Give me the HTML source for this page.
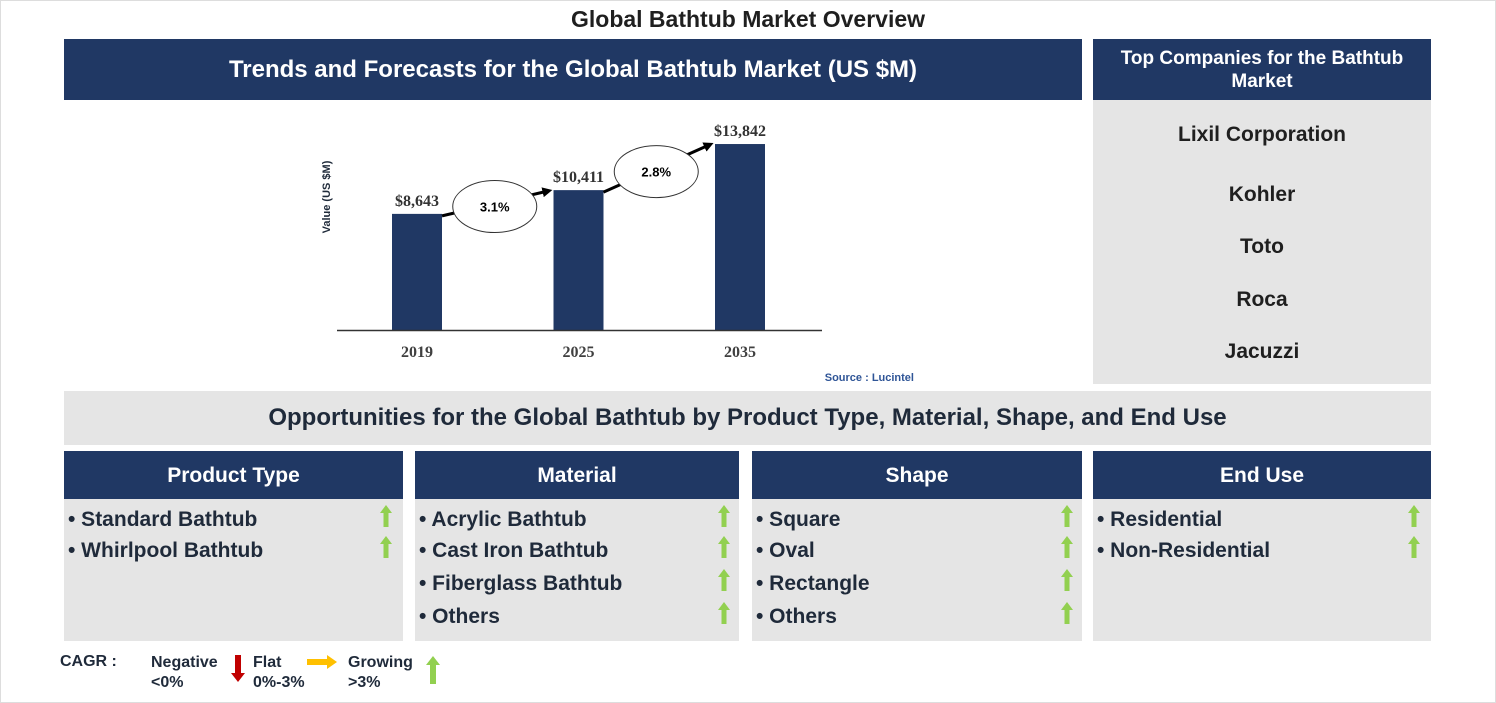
<!DOCTYPE html>
<html><head><meta charset="utf-8"><style>
body{margin:0;width:1496px;height:703px;background:#fff;position:relative;font-family:"Liberation Sans",Arial,sans-serif;overflow:hidden}
.a{position:absolute}
.hdr{background:#203864;color:#fff;font-weight:bold;text-align:center}
.gray{background:#e5e5e5}
.item{position:absolute;font-size:21px;font-weight:bold;color:#1f2a3a;white-space:nowrap}
.serif{font-family:"Liberation Serif",serif;font-weight:bold}
</style></head><body>
<div class="a" style="left:0;top:0;width:1494px;height:701px;border:1px solid #ddd"></div>
<div class="a" style="left:0;top:6px;width:1496px;text-align:center;font-size:23px;font-weight:bold;color:#1f1f1f">Global Bathtub Market Overview</div>
<div class="a hdr" style="left:64px;top:39px;width:1018px;height:61px;line-height:61px;font-size:24px">Trends and Forecasts for the Global Bathtub Market (US $M)</div>
<div class="a hdr" style="left:1093px;top:39px;width:338px;height:61px;font-size:19px;display:flex;align-items:center;justify-content:center;line-height:23px">Top Companies for the Bathtub<br>Market</div>
<div class="a gray" style="left:1093px;top:100px;width:338px;height:284px"></div>
<div class="a" style="left:1093px;top:123px;width:338px;text-align:center;font-size:21px;font-weight:bold;color:#1f1f1f">Lixil Corporation</div>
<div class="a" style="left:1093px;top:183px;width:338px;text-align:center;font-size:21px;font-weight:bold;color:#1f1f1f">Kohler</div>
<div class="a" style="left:1093px;top:235px;width:338px;text-align:center;font-size:21px;font-weight:bold;color:#1f1f1f">Toto</div>
<div class="a" style="left:1093px;top:288px;width:338px;text-align:center;font-size:21px;font-weight:bold;color:#1f1f1f">Roca</div>
<div class="a" style="left:1093px;top:340px;width:338px;text-align:center;font-size:21px;font-weight:bold;color:#1f1f1f">Jacuzzi</div>

<svg class="a" id="chart" style="left:0;top:0" width="1090" height="390"></svg>

<div class="a gray" style="left:64px;top:391px;width:1367px;height:54px;line-height:54px;text-align:center;font-size:24px;font-weight:bold;color:#1f2a3a">Opportunities for the Global Bathtub by Product Type, Material, Shape, and End Use</div>

<div id="panels"></div>

<div class="a" style="left:0;top:0">
<div class="a" style="left:60px;top:653px;font-size:16px;font-weight:bold;color:#1f2a3a;white-space:nowrap">CAGR :</div>
<div class="a" style="left:151px;top:653px;font-size:16px;font-weight:bold;color:#1f2a3a;line-height:20px">Negative<br>&lt;0%</div>
<svg class="a" style="left:231px;top:655px" width="14" height="28"><path d="M4 0h6v18h4l-7 9-7-9h4z" fill="#c00000"/></svg>
<div class="a" style="left:253px;top:653px;font-size:16px;font-weight:bold;color:#1f2a3a;line-height:20px">Flat<br>0%-3%</div>
<svg class="a" style="left:307px;top:655px" width="30" height="14"><path d="M0 4h20V0l10 7-10 7v-4H0z" fill="#ffc000"/></svg>
<div class="a" style="left:348px;top:653px;font-size:16px;font-weight:bold;color:#1f2a3a;line-height:20px">Growing<br>&gt;3%</div>
<svg class="a" style="left:426px;top:656px" width="14" height="28"><path d="M7 0l7 9h-4v19H4V9H0z" fill="#92d050"/></svg>
</div>

<script>
const years=["2019","2025","2035"];
const values=[8643,10411,13842];
const labels=["$8,643","$10,411","$13,842"];
const cagrs=["3.1%","2.8%"];
const NS="http://www.w3.org/2000/svg";
const svg=document.getElementById('chart');
const base=330, k=0.013435, x0=392, step=161.5, bw=50;
const xOf=i=>x0+i*step, yOf=v=>base-v*k;
function mk(t,a){const e=document.createElementNS(NS,t);for(const n in a)e.setAttribute(n,a[n]);svg.appendChild(e);return e;}
const defs=mk('defs',{});
const m=document.createElementNS(NS,'marker');
m.setAttribute('id','ah');m.setAttribute('markerUnits','userSpaceOnUse');m.setAttribute('markerWidth','10');m.setAttribute('markerHeight','10');m.setAttribute('refX','5');m.setAttribute('refY','5');m.setAttribute('orient','auto');
const mp=document.createElementNS(NS,'path');mp.setAttribute('d','M0 0L10 5L0 10z');mp.setAttribute('fill','#000');m.appendChild(mp);defs.appendChild(m);
let t=mk('text',{x:330,y:197,'font-size':11,'font-weight':'bold',fill:'#1f2a3a','text-anchor':'middle',transform:'rotate(-90 330 197)','font-family':'Liberation Sans, sans-serif'});
t.textContent='Value (US $M)';


values.forEach((v,i)=>{
  const r=mk('rect',{x:xOf(i),y:yOf(v),width:bw,height:v*k,fill:'#203864'});
  
  
  const l=mk('text',{x:xOf(i)+bw/2,y:yOf(v)-8,'font-size':16,'text-anchor':'middle',fill:'#333','class':'serif'});
  l.textContent=labels[i];
  
  
  const x=mk('text',{x:xOf(i)+bw/2,y:357,'font-size':16,'text-anchor':'middle',fill:'#404040','class':'serif'});
  x.textContent=years[i];
  
  
});
const ax=mk('line',{x1:337,y1:base+0.5,x2:822,y2:base+0.5,stroke:'#333','stroke-width':1.5});


cagrs.forEach((c,i)=>{
  const x1=xOf(i)+bw, y1=yOf(values[i])+2, x2=xOf(i+1)-6, y2=yOf(values[i+1])+1;
  const ln=mk('line',{x1:x1,y1:y1,x2:x2,y2:y2,stroke:'#000','stroke-width':3,'marker-end':'url(#ah)'});
  
  
  const cx=(x1+x2)/2, cy=(y1+y2)/2+3;
  const el=mk('ellipse',{cx:cx,cy:cy,rx:42,ry:26,fill:'#fff',stroke:'#333','stroke-width':1});
  
  
  const tx=mk('text',{x:cx,y:cy+5,'font-size':13,'font-weight':'bold','text-anchor':'middle',fill:'#000','font-family':'Liberation Sans, sans-serif'});
  tx.textContent=c;
  
  
});
const src=mk('text',{x:914,y:381,'font-size':11,'font-weight':'bold','text-anchor':'end',fill:'#2f5597','font-family':'Liberation Sans, sans-serif'});
src.textContent='Source : Lucintel';



const panels=[
 {t:"Product Type",x:64,w:339,items:["Standard Bathtub","Whirlpool Bathtub"],ax:380},
 {t:"Material",x:415,w:324,items:["Acrylic Bathtub","Cast Iron Bathtub","Fiberglass Bathtub","Others"],ax:718},
 {t:"Shape",x:752,w:330,items:["Square","Oval","Rectangle","Others"],ax:1061},
 {t:"End Use",x:1093,w:338,items:["Residential","Non-Residential"],ax:1408}
];
const ys=[519,550,583,616];
const pc=document.getElementById('panels');
panels.forEach(p=>{
  const slug=p.t.toLowerCase().replace(/ /g,'-');
  const h=document.createElement('div');h.className='a hdr';
  h.style.cssText=`left:${p.x}px;top:451px;width:${p.w}px;height:48px;line-height:50px;font-size:21px`;
  h.textContent=p.t;
  
  
  pc.appendChild(h);
  const b=document.createElement('div');b.className='a gray';
  b.style.cssText=`left:${p.x}px;top:499px;width:${p.w}px;height:142px`;
  
  
  pc.appendChild(b);
  p.items.forEach((it,i)=>{
    const d=document.createElement('div');d.className='item';
    d.style.left=(p.x+4)+'px';d.style.top=(ys[i]-11)+'px';
    d.textContent='• '+it;
    
    
    pc.appendChild(d);
    const s=document.createElementNS(NS,'svg');
    s.setAttribute('class','a');s.setAttribute('width','12');s.setAttribute('height','22');
    s.style.left=p.ax+'px';s.style.top=(ys[i]-14)+'px';
    s.innerHTML='<path d="M6 0l6 8H8.5v14h-5V8H0z" fill="#92d050"/>';
    
    
    pc.appendChild(s);
  });
});
</script>
</body></html>
